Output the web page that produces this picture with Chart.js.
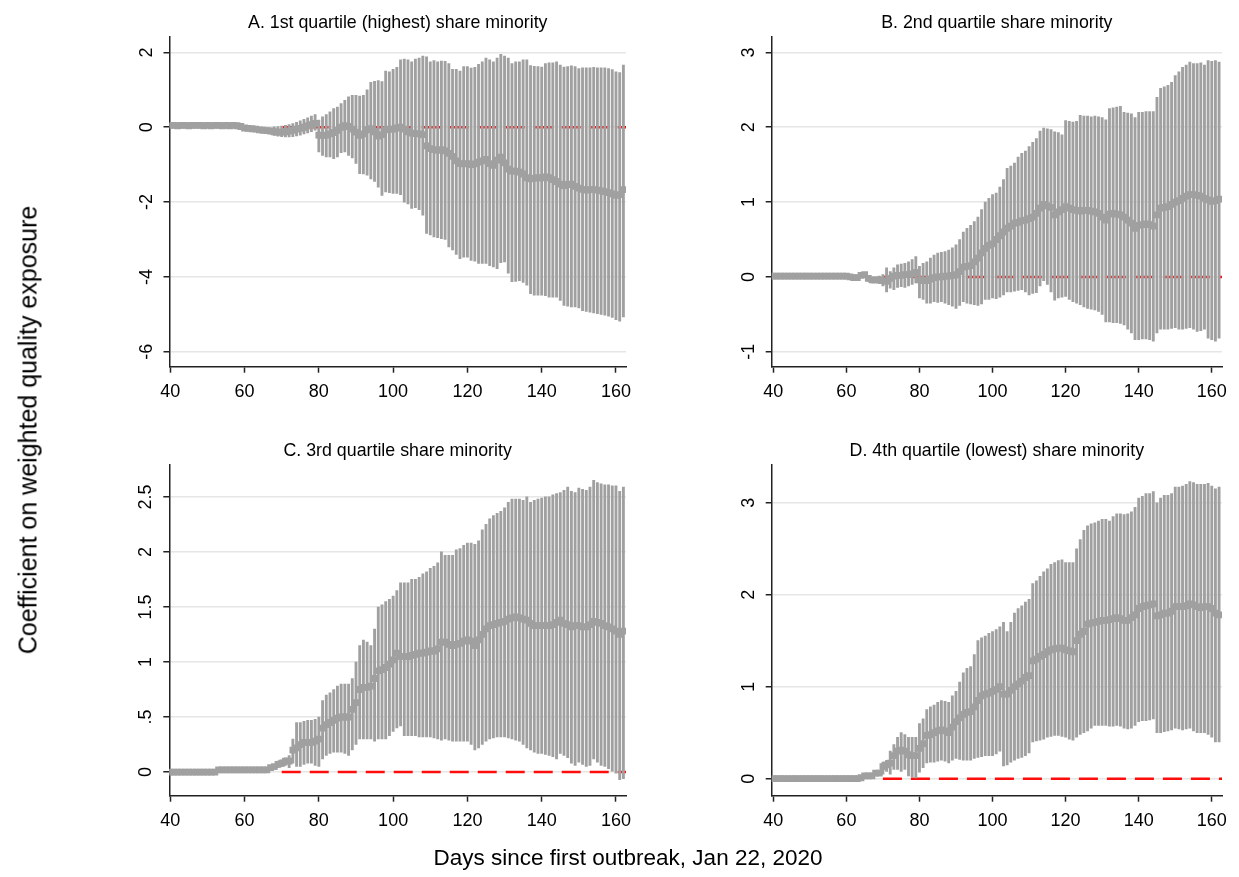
<!DOCTYPE html>
<html>
<head>
<meta charset="utf-8">
<script src="https://cdn.jsdelivr.net/npm/chart.js@4.4.1/dist/chart.umd.min.js"></script>
<style>
  body { margin: 0; background: #fff; }
  #wrap { position: relative; width: 1239px; height: 877px; background: #fff; overflow: hidden; }
  #wrap canvas { position: absolute; left: 0; top: 0; }
  .axis-title { position: absolute; white-space: nowrap; font-family: 'Liberation Sans', Arial, Helvetica, sans-serif; color: #000; }
  #ytitle { left: 28px; top: 430px; font-size: 25px; transform: translate(-50%, -50%) rotate(-90deg); }
  #xtitle { left: 628px; top: 858px; font-size: 22.5px; transform: translate(-50%, -50%); }
</style>
</head>
<body>
<div id="wrap">
  <canvas id="cA" width="1239" height="877"></canvas>
  <canvas id="cB" width="1239" height="877"></canvas>
  <canvas id="cC" width="1239" height="877"></canvas>
  <canvas id="cD" width="1239" height="877"></canvas>
  <div class="axis-title" id="ytitle">Coefficient on weighted quality exposure</div>
  <div class="axis-title" id="xtitle">Days since first outbreak, Jan 22, 2020</div>
</div>
<script>
// days 40..162, one estimate per day
const days = Array.from({ length: 123 }, (_, i) => 40 + i);
const xTicks = [40, 60, 80, 100, 120, 140, 160];
const refStart = 70;

// A. 1st quartile (highest) share minority
const aEst = [
  0.05,0.05,0.04,0.05,0.05,0.04,0.05,0.05,0.05,0.04,
  0.05,0.04,0.05,0.05,0.04,0.05,0.04,0.05,0.04,0.02,
  -0.02,-0.03,-0.04,-0.05,-0.07,-0.08,-0.09,-0.1,-0.12,-0.13,
  -0.13,-0.12,-0.1,-0.08,-0.05,-0.03,0.0,0.04,0.07,0.1,
  -0.21,-0.22,-0.21,-0.18,-0.14,-0.08,0.0,0.04,0.02,-0.05,
  -0.13,-0.22,-0.18,-0.07,-0.04,-0.12,-0.24,-0.2,-0.07,-0.05,
  -0.05,-0.02,0.0,-0.05,-0.12,-0.16,-0.17,-0.18,-0.2,-0.5,
  -0.57,-0.6,-0.62,-0.6,-0.63,-0.7,-0.78,-0.9,-0.97,-0.98,
  -0.97,-1.0,-0.98,-0.93,-0.9,-0.86,-0.97,-1.02,-0.88,-0.8,
  -0.95,-1.12,-1.17,-1.17,-1.2,-1.25,-1.35,-1.38,-1.36,-1.35,
  -1.35,-1.33,-1.35,-1.4,-1.45,-1.52,-1.56,-1.53,-1.52,-1.58,
  -1.63,-1.66,-1.68,-1.67,-1.67,-1.68,-1.7,-1.72,-1.75,-1.78,
  -1.82,-1.8,-1.67
];
const aHi = [
  0.1,0.1,0.09,0.1,0.1,0.09,0.1,0.1,0.1,0.09,
  0.1,0.09,0.1,0.1,0.09,0.1,0.09,0.1,0.09,0.07,
  0.03,0.02,0.02,0.01,0.0,-0.01,0.0,0.0,0.01,0.02,
  0.03,0.05,0.07,0.1,0.13,0.17,0.21,0.25,0.3,0.34,
  0.19,0.28,0.34,0.41,0.5,0.54,0.63,0.72,0.81,0.85,
  0.85,0.83,0.85,1.0,1.2,1.23,1.25,1.22,1.5,1.48,
  1.55,1.6,1.8,1.82,1.8,1.75,1.82,1.85,1.9,1.88,
  1.75,1.78,1.75,1.77,1.76,1.7,1.55,1.55,1.5,1.62,
  1.62,1.58,1.6,1.68,1.75,1.85,1.8,1.75,1.85,1.95,
  1.9,1.85,1.7,1.75,1.75,1.8,1.8,1.65,1.63,1.62,
  1.61,1.7,1.72,1.72,1.75,1.66,1.61,1.62,1.64,1.62,
  1.57,1.59,1.59,1.59,1.6,1.59,1.59,1.59,1.57,1.54,
  1.48,1.46,1.66
];
const aLo = [
  0.0,0.0,-0.01,0.0,0.0,-0.01,0.0,0.0,0.0,-0.01,
  0.0,-0.01,0.0,0.0,-0.01,0.0,-0.01,0.0,-0.01,-0.03,
  -0.07,-0.08,-0.09,-0.1,-0.12,-0.14,-0.16,-0.18,-0.22,-0.24,
  -0.25,-0.26,-0.26,-0.25,-0.23,-0.21,-0.18,-0.15,-0.12,-0.08,
  -0.66,-0.75,-0.79,-0.79,-0.84,-0.79,-0.68,-0.66,-0.75,-0.82,
  -0.97,-1.24,-1.25,-1.28,-1.38,-1.45,-1.6,-1.82,-1.73,-1.75,
  -1.77,-1.77,-1.8,-2.0,-2.05,-2.17,-2.15,-2.2,-2.35,-2.84,
  -2.88,-2.93,-2.95,-2.98,-3.0,-3.2,-3.28,-3.4,-3.51,-3.47,
  -3.47,-3.56,-3.58,-3.64,-3.64,-3.64,-3.7,-3.73,-3.78,-3.62,
  -3.6,-3.9,-4.13,-4.12,-4.1,-4.15,-4.22,-4.45,-4.49,-4.49,
  -4.49,-4.5,-4.54,-4.54,-4.54,-4.63,-4.76,-4.78,-4.8,-4.8,
  -4.83,-4.9,-4.92,-4.94,-4.96,-4.98,-5.0,-5.02,-5.05,-5.08,
  -5.14,-5.18,-5.07
];

// B. 2nd quartile share minority
const bEst = [
  0.01,0.01,0.01,0.01,0.01,0.01,0.01,0.01,0.01,0.01,
  0.01,0.01,0.01,0.01,0.01,0.01,0.01,0.01,0.01,0.01,
  0.01,0.0,-0.01,-0.01,0.02,0.03,-0.02,-0.04,-0.04,-0.04,
  -0.05,-0.06,-0.02,0.01,0.02,0.02,0.03,0.03,0.04,0.06,
  -0.04,-0.05,-0.05,-0.03,-0.01,0.0,0.0,0.01,0.01,0.02,
  0.03,0.07,0.13,0.14,0.15,0.2,0.25,0.32,0.38,0.42,
  0.44,0.5,0.55,0.6,0.65,0.68,0.72,0.73,0.75,0.76,
  0.78,0.8,0.85,0.92,0.97,0.95,0.93,0.83,0.87,0.9,
  0.94,0.92,0.9,0.89,0.88,0.89,0.89,0.88,0.87,0.85,
  0.8,0.76,0.84,0.85,0.84,0.83,0.8,0.76,0.72,0.65,
  0.69,0.7,0.71,0.7,0.68,0.83,0.92,0.93,0.94,0.97,
  1.0,1.02,1.05,1.08,1.1,1.1,1.09,1.08,1.05,1.03,
  1.01,1.02,1.04
];
const bHi = [
  0.04,0.04,0.04,0.04,0.04,0.04,0.04,0.04,0.04,0.04,
  0.04,0.04,0.04,0.04,0.04,0.04,0.04,0.04,0.04,0.04,
  0.04,0.03,0.02,0.02,0.05,0.06,0.02,0.0,0.0,0.01,
  0.03,0.12,0.07,0.12,0.16,0.17,0.18,0.2,0.23,0.27,
  0.14,0.18,0.2,0.25,0.29,0.32,0.33,0.34,0.36,0.39,
  0.43,0.5,0.6,0.65,0.69,0.74,0.8,0.9,1.0,1.05,
  1.1,1.12,1.2,1.3,1.45,1.48,1.52,1.6,1.65,1.68,
  1.74,1.8,1.85,1.95,1.99,1.98,1.97,1.94,1.93,1.9,
  2.09,2.08,2.07,2.08,2.16,2.15,2.15,2.14,2.15,2.14,
  2.13,2.1,2.25,2.26,2.27,2.28,2.2,2.19,2.18,2.13,
  2.2,2.2,2.21,2.21,2.21,2.4,2.52,2.54,2.56,2.6,
  2.69,2.74,2.8,2.83,2.87,2.85,2.85,2.86,2.83,2.89,
  2.88,2.89,2.87
];
const bLo = [
  -0.02,-0.02,-0.02,-0.02,-0.02,-0.02,-0.02,-0.02,-0.02,-0.02,
  -0.02,-0.02,-0.02,-0.02,-0.02,-0.02,-0.02,-0.02,-0.02,-0.02,
  -0.02,-0.03,-0.04,-0.04,-0.01,0.0,-0.06,-0.08,-0.08,-0.09,
  -0.12,-0.2,-0.15,-0.17,-0.14,-0.13,-0.14,-0.12,-0.1,-0.08,
  -0.28,-0.3,-0.35,-0.35,-0.33,-0.34,-0.33,-0.35,-0.37,-0.39,
  -0.42,-0.38,-0.33,-0.35,-0.36,-0.37,-0.38,-0.36,-0.3,-0.3,
  -0.28,-0.29,-0.27,-0.24,-0.2,-0.2,-0.19,-0.18,-0.17,-0.2,
  -0.24,-0.22,-0.21,-0.12,-0.05,-0.1,-0.2,-0.31,-0.28,-0.27,
  -0.26,-0.3,-0.33,-0.35,-0.37,-0.4,-0.42,-0.43,-0.44,-0.46,
  -0.5,-0.6,-0.6,-0.61,-0.61,-0.62,-0.64,-0.7,-0.75,-0.84,
  -0.84,-0.83,-0.83,-0.84,-0.86,-0.75,-0.7,-0.7,-0.7,-0.69,
  -0.68,-0.7,-0.7,-0.69,-0.68,-0.7,-0.73,-0.72,-0.7,-0.82,
  -0.84,-0.86,-0.82
];

// C. 3rd quartile share minority
const cEst = [
  0.0,0.0,0.0,0.0,0.0,0.0,0.0,0.0,0.0,0.0,
  0.0,0.0,0.0,0.02,0.02,0.02,0.02,0.02,0.02,0.02,
  0.02,0.02,0.02,0.02,0.02,0.02,0.02,0.04,0.05,0.07,
  0.08,0.1,0.1,0.2,0.22,0.25,0.27,0.27,0.27,0.28,
  0.3,0.4,0.43,0.45,0.47,0.49,0.5,0.5,0.5,0.57,
  0.63,0.75,0.77,0.77,0.78,0.85,0.92,0.93,0.95,0.98,
  1.02,1.08,1.05,1.05,1.05,1.06,1.07,1.08,1.08,1.09,
  1.1,1.1,1.12,1.18,1.18,1.16,1.15,1.16,1.17,1.19,
  1.2,1.19,1.15,1.2,1.25,1.3,1.33,1.34,1.35,1.36,
  1.37,1.39,1.4,1.41,1.4,1.39,1.38,1.35,1.33,1.33,
  1.33,1.33,1.33,1.34,1.36,1.38,1.35,1.34,1.32,1.33,
  1.33,1.32,1.32,1.34,1.37,1.36,1.35,1.33,1.32,1.3,
  1.28,1.25,1.28
];
const cHi = [
  0.02,0.02,0.02,0.02,0.02,0.02,0.02,0.02,0.02,0.02,
  0.02,0.02,0.02,0.04,0.04,0.04,0.04,0.04,0.04,0.04,
  0.04,0.04,0.04,0.04,0.04,0.04,0.04,0.06,0.07,0.1,
  0.11,0.13,0.15,0.3,0.45,0.45,0.46,0.47,0.47,0.48,
  0.5,0.65,0.7,0.72,0.75,0.78,0.8,0.8,0.8,0.85,
  1.0,1.15,1.2,1.18,1.15,1.3,1.5,1.52,1.55,1.57,
  1.6,1.65,1.72,1.72,1.72,1.75,1.75,1.77,1.8,1.82,
  1.85,1.87,1.9,2.0,1.97,1.97,1.97,2.02,2.03,2.06,
  2.08,2.08,2.07,2.1,2.2,2.25,2.3,2.33,2.35,2.37,
  2.4,2.45,2.48,2.48,2.48,2.47,2.5,2.45,2.47,2.48,
  2.49,2.5,2.5,2.52,2.53,2.54,2.56,2.59,2.55,2.54,
  2.58,2.57,2.56,2.59,2.65,2.63,2.62,2.61,2.61,2.6,
  2.6,2.55,2.59
];
const cLo = [
  -0.01,-0.01,-0.01,-0.01,-0.01,-0.01,-0.01,-0.01,-0.01,-0.01,
  -0.01,-0.01,-0.01,0.0,0.0,0.0,0.0,0.0,0.0,0.0,
  0.0,0.0,0.0,0.0,0.0,0.0,0.0,0.02,0.03,0.04,
  0.05,0.06,0.04,0.08,0.05,0.05,0.07,0.08,0.08,0.06,
  0.05,0.12,0.15,0.17,0.18,0.18,0.18,0.17,0.15,0.2,
  0.25,0.3,0.3,0.3,0.3,0.28,0.3,0.3,0.3,0.33,
  0.37,0.4,0.42,0.33,0.33,0.33,0.33,0.32,0.32,0.32,
  0.32,0.31,0.3,0.29,0.3,0.29,0.28,0.28,0.28,0.28,
  0.28,0.25,0.2,0.22,0.25,0.28,0.3,0.31,0.32,0.32,
  0.32,0.31,0.3,0.29,0.28,0.25,0.22,0.2,0.18,0.17,
  0.17,0.16,0.15,0.14,0.12,0.17,0.15,0.13,0.08,0.06,
  0.09,0.07,0.05,0.06,0.12,0.09,0.06,0.05,0.03,0.0,
  -0.01,-0.07,-0.06
];

// D. 4th quartile (lowest) share minority
const dEst = [
  0.0,0.0,0.0,0.0,0.0,0.0,0.0,0.0,0.0,0.0,
  0.0,0.0,0.0,0.0,0.0,0.0,0.0,0.0,0.0,0.0,
  0.0,0.0,0.0,0.0,0.01,0.03,0.03,0.03,0.06,0.06,
  0.13,0.15,0.17,0.25,0.3,0.31,0.3,0.26,0.25,0.25,
  0.33,0.38,0.47,0.48,0.5,0.52,0.53,0.52,0.5,0.56,
  0.62,0.66,0.7,0.72,0.73,0.78,0.85,0.9,0.92,0.93,
  0.95,0.97,1.0,0.92,0.92,0.96,1.0,1.03,1.06,1.1,
  1.12,1.28,1.3,1.33,1.35,1.38,1.4,1.41,1.42,1.42,
  1.4,1.39,1.38,1.5,1.57,1.6,1.68,1.69,1.7,1.71,
  1.72,1.72,1.73,1.74,1.75,1.74,1.72,1.72,1.75,1.78,
  1.85,1.87,1.88,1.89,1.9,1.77,1.78,1.8,1.8,1.82,
  1.87,1.87,1.87,1.88,1.9,1.89,1.87,1.86,1.87,1.87,
  1.85,1.8,1.78
];
const dHi = [
  0.02,0.02,0.02,0.02,0.02,0.02,0.02,0.02,0.02,0.02,
  0.02,0.02,0.02,0.02,0.02,0.02,0.02,0.02,0.02,0.02,
  0.02,0.02,0.02,0.02,0.03,0.05,0.05,0.05,0.08,0.08,
  0.18,0.2,0.3,0.37,0.45,0.5,0.48,0.45,0.45,0.45,
  0.6,0.65,0.75,0.78,0.8,0.83,0.85,0.84,0.83,0.9,
  0.95,1.05,1.15,1.2,1.22,1.35,1.5,1.53,1.55,1.58,
  1.6,1.62,1.65,1.7,1.6,1.7,1.8,1.85,1.88,1.92,
  1.95,2.12,2.15,2.2,2.25,2.28,2.33,2.35,2.37,2.38,
  2.35,2.35,2.35,2.5,2.6,2.7,2.75,2.77,2.78,2.8,
  2.82,2.82,2.8,2.85,2.88,2.88,2.87,2.88,2.9,2.95,
  3.05,3.07,3.1,3.1,3.12,3.0,3.05,3.08,3.08,3.1,
  3.17,3.17,3.18,3.2,3.23,3.22,3.2,3.2,3.2,3.21,
  3.18,3.15,3.17
];
const dLo = [
  -0.02,-0.02,-0.02,-0.02,-0.02,-0.02,-0.02,-0.02,-0.02,-0.02,
  -0.02,-0.02,-0.02,-0.02,-0.02,-0.02,-0.02,-0.02,-0.02,-0.02,
  -0.02,-0.02,-0.02,-0.02,-0.01,0.01,0.01,0.01,0.04,0.04,
  0.05,0.08,0.05,0.1,0.1,0.08,0.1,0.03,0.02,0.0,
  0.07,0.12,0.17,0.18,0.18,0.19,0.2,0.19,0.17,0.2,
  0.22,0.21,0.2,0.2,0.2,0.22,0.23,0.24,0.25,0.25,
  0.25,0.27,0.3,0.14,0.15,0.18,0.2,0.22,0.23,0.25,
  0.28,0.4,0.41,0.42,0.43,0.45,0.46,0.47,0.47,0.46,
  0.45,0.43,0.42,0.45,0.48,0.5,0.52,0.55,0.58,0.58,
  0.58,0.58,0.57,0.57,0.58,0.57,0.55,0.54,0.55,0.58,
  0.62,0.63,0.63,0.64,0.65,0.5,0.5,0.51,0.52,0.53,
  0.55,0.54,0.53,0.54,0.55,0.52,0.5,0.5,0.5,0.48,
  0.45,0.4,0.4
];

const aYTicks = [-6, -4, -2, 0, 2];
const aYLabels = ['-6', '-4', '-2', '0', '2'];
const bYTicks = [-1, 0, 1, 2, 3];
const bYLabels = ['-1', '0', '1', '2', '3'];
const cYTicks = [0, 0.5, 1, 1.5, 2, 2.5];
const cYLabels = ['0', '.5', '1', '1.5', '2', '2.5'];
const dYTicks = [0, 1, 2, 3];
const dYLabels = ['0', '1', '2', '3'];

const FONT = "'Liberation Sans', Arial, Helvetica, sans-serif";
const GRAY = '#a0a0a0';
const RED = '#ff0d0d';
const AXIS = '#222';

// panel geometry in page pixels
const panels = [
  { id: 'cA', title: 'A. 1st quartile (highest) share minority', est: aEst, lo: aLo, hi: aHi,
    yTicks: aYTicks, yLabels: aYLabels, yMin: -6.4, yMax: 2.42, xMin: 39.8, xMax: 162.7,
    box: { l: 169.5, t: 36.7, r: 626, b: 366.7 } },
  { id: 'cB', title: 'B. 2nd quartile share minority', est: bEst, lo: bLo, hi: bHi,
    yTicks: bYTicks, yLabels: bYLabels, yMin: -1.2, yMax: 3.21, xMin: 39.56, xMax: 162.8,
    box: { l: 771.7, t: 36.7, r: 1222, b: 366.7 } },
  { id: 'cC', title: 'C. 3rd quartile share minority', est: cEst, lo: cLo, hi: cHi,
    yTicks: cYTicks, yLabels: cYLabels, yMin: -0.215, yMax: 2.79, xMin: 39.73, xMax: 162.7,
    box: { l: 169.3, t: 465, r: 626, b: 795.7 } },
  { id: 'cD', title: 'D. 4th quartile (lowest) share minority', est: dEst, lo: dLo, hi: dHi,
    yTicks: dYTicks, yLabels: dYLabels, yMin: -0.185, yMax: 3.41, xMin: 39.56, xMax: 162.8,
    box: { l: 771.7, t: 465, r: 1222, b: 795.7 } },
];

const labelPlugin = {
  id: 'stataLabels',
  afterDraw(chart, args, opts) {
    const ctx = chart.ctx;
    const area = chart.chartArea;
    const xs = chart.scales.x, ys = chart.scales.y;
    ctx.save();
    ctx.fillStyle = '#000';
    // panel title
    ctx.font = `17.8px ${FONT}`;
    ctx.textAlign = 'center';
    ctx.textBaseline = 'middle';
    ctx.fillText(opts.title, (area.left + area.right) / 2, area.top - 14);
    // x tick labels
    ctx.font = `18px ${FONT}`;
    ctx.textBaseline = 'alphabetic';
    xTicks.forEach(v => {
      ctx.fillText(String(v), xs.getPixelForValue(v), area.bottom + 30);
    });
    // y tick labels, rotated like Stata
    opts.yTicks.forEach((v, i) => {
      ctx.save();
      ctx.translate(area.left - 18, ys.getPixelForValue(v));
      ctx.rotate(-Math.PI / 2);
      ctx.textAlign = 'center';
      ctx.textBaseline = 'alphabetic';
      ctx.fillText(opts.yLabels[i], 0, 0);
      ctx.restore();
    });
    ctx.restore();
  }
};

panels.forEach(p => {
  const bars = days.map((d, i) => ({ x: d, y: [p.lo[i], p.hi[i]] }));
  const points = days.map((d, i) => ({ x: d, y: p.est[i] }));
  const ref = [{ x: refStart, y: 0 }, { x: p.xMax, y: 0 }];

  new Chart(document.getElementById(p.id), {
    type: 'bar',
    data: {
      datasets: [
        {
          type: 'line',
          data: ref,
          borderColor: RED,
          borderWidth: 2.5,
          borderDash: [19, 9],
          pointRadius: 0,
          order: 3,
        },
        {
          type: 'bar',
          data: bars,
          backgroundColor: GRAY,
          borderWidth: 0,
          barThickness: 2.2,
          grouped: false,
          order: 2,
        },
        {
          type: 'line',
          data: points,
          showLine: false,
          pointStyle: 'rect',
          pointRadius: 4.8,
          pointBackgroundColor: GRAY,
          pointBorderWidth: 0,
          order: 1,
        },
      ]
    },
    options: {
      responsive: false,
      animation: false,
      events: [],
      layout: {
        padding: { left: p.box.l, top: p.box.t, right: 1239 - p.box.r, bottom: 877 - p.box.b }
      },
      plugins: {
        legend: { display: false },
        tooltip: { enabled: false },
        stataLabels: { title: p.title, yTicks: p.yTicks, yLabels: p.yLabels },
      },
      scales: {
        x: {
          type: 'linear',
          min: p.xMin,
          max: p.xMax,
          offset: false,
          afterBuildTicks: s => { s.ticks = xTicks.map(v => ({ value: v })); },
          afterFit: s => { s.height = 0; },
          ticks: { display: false },
          grid: { drawOnChartArea: false, drawTicks: true, tickLength: 6, tickColor: AXIS, tickWidth: 1.5, offset: false },
          border: { color: AXIS, width: 1.5 },
        },
        y: {
          min: p.yMin,
          max: p.yMax,
          afterBuildTicks: s => { s.ticks = p.yTicks.map(v => ({ value: v })); },
          afterFit: s => { s.width = 0; },
          ticks: { display: false },
          grid: { color: '#e6e6e6', lineWidth: 1.5, drawTicks: true, tickLength: 6, tickColor: AXIS, tickWidth: 1.5 },
          border: { color: AXIS, width: 1.5 },
        }
      }
    },
    plugins: [labelPlugin]
  });
});
</script>
</body>
</html>
